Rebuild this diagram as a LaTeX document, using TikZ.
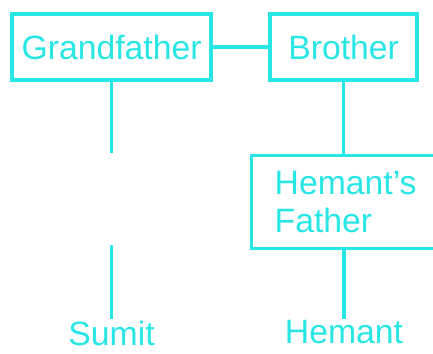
\documentclass[tikz,border=0pt]{standalone}
\usepackage{fontspec}
\setmainfont{Liberation Sans}
\usetikzlibrary{positioning}

\definecolor{famcyan}{RGB}{40,230,230}
\tikzset{
  person/.style={draw=famcyan, line width=2.4pt, text=famcyan, font=\fontsize{24}{27}\selectfont, minimum height=1.65cm, inner sep=0pt},
  kid/.style={text=famcyan, font=\fontsize{24}{27}\selectfont, inner sep=1pt},
  link/.style={draw=famcyan, line width=2.4pt}
}

\begin{document}
\begin{tikzpicture}
        \useasboundingbox (0,0) rectangle (10.825,8.825);
        \clip (0,0) rectangle (10.825,8.825);

        \node[person, minimum width=4.975cm] (grandfather) at (2.79,7.65) {Grandfather};
        \node[person, minimum width=3.675cm] (brother) at (8.59,7.65) {Brother};
        \node[person, anchor=north west, minimum height=2.325cm, text width=4.3cm, align=left, inner xsep=0.575cm] (hfather) at (6.25,4.975) {Hemant's\\Father};

        \node[kid, anchor=north] (sumit) at (2.79,0.85) {Sumit};
        \node[kid, anchor=north] (hemant) at (8.6,0.85) {Hemant};

        \coordinate (gapTop) at (2.79,5.0);
        \coordinate (gapBottom) at (2.79,2.7);

        \draw[link] (grandfather) -- (brother);
        \draw[link] (grandfather.south) -- (gapTop);
        \draw[link] (gapBottom) -- (sumit.north);
        \draw[link] (brother.south) -- (brother.south |- hfather.north);
        \draw[link] (hemant.north |- hfather.south) -- (hemant.north);
      \end{tikzpicture}
\end{document}
